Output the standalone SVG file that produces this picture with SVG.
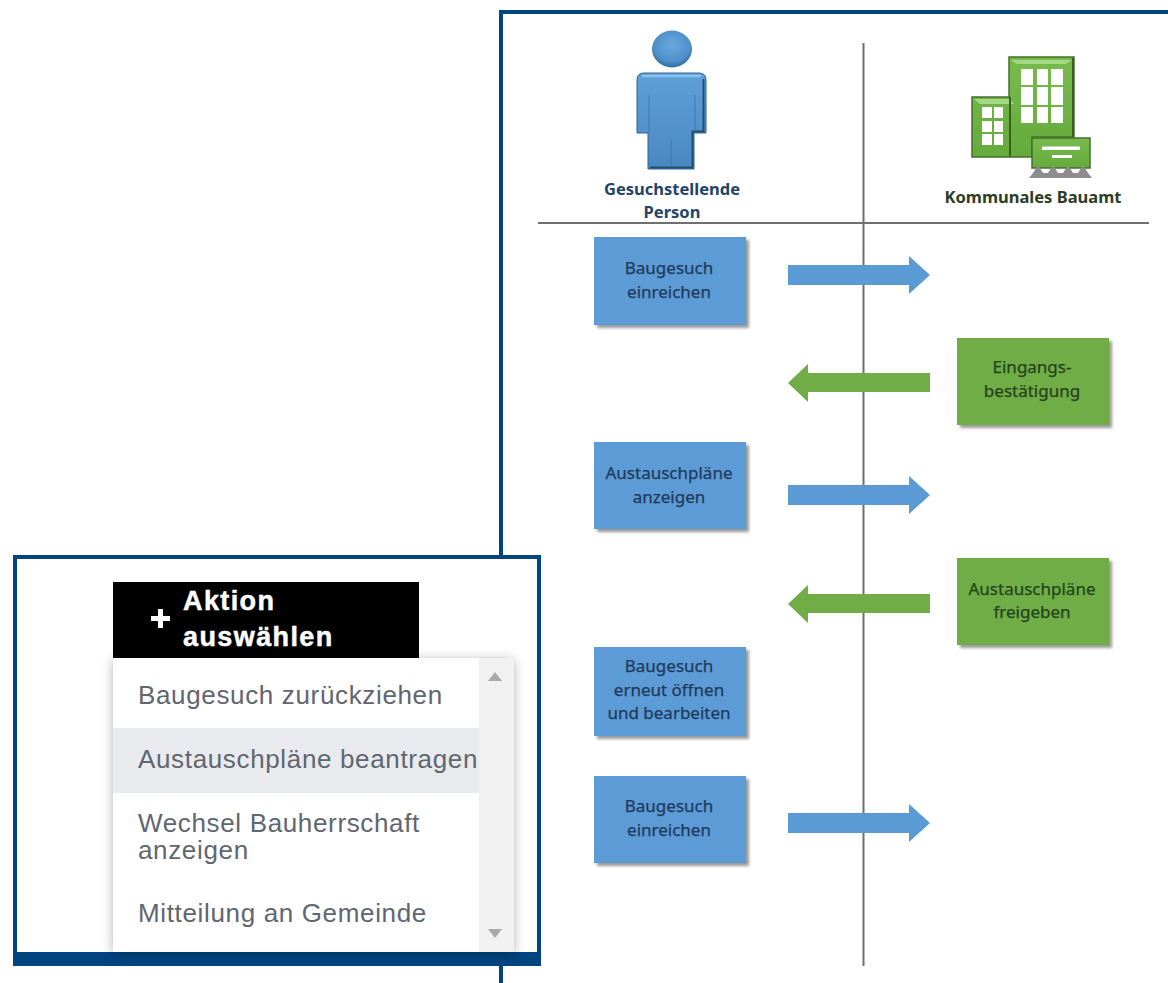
<svg xmlns="http://www.w3.org/2000/svg" width="1168" height="983" viewBox="0 0 1168 983">
<style>
.lb{font-family:"Noto Sans","Liberation Sans",sans-serif;font-size:17px;fill:#1f3a5c;stroke:#1f3a5c;stroke-width:.25;text-anchor:middle}
.lg{fill:#24431a;stroke:#24431a}
.hd{font-family:"Noto Sans","Liberation Sans",sans-serif;font-size:16.500px;font-weight:700;text-anchor:middle}
.m{font-family:"Liberation Sans",Arial,sans-serif;font-size:26px;fill:#5f6670;letter-spacing:.65px}
.act{font-family:"Liberation Sans",Arial,sans-serif;font-size:27px;font-weight:700;fill:#fff;letter-spacing:1.4px;stroke:#fff;stroke-width:.5}
.bb{fill:#5b9bd5;filter:url(#sh)}
.gb{fill:#70ad47;filter:url(#sh)}
.ln{stroke:#6f6f6f;stroke-width:2;fill:none}
.frame{fill:#fff;stroke:#004480;stroke-width:4}
.w{fill:#fff}
</style>
<defs>
<filter id="sh" x="-10%" y="-10%" width="125%" height="125%"><feDropShadow dx="3" dy="3" stdDeviation="1.5" flood-color="#777" flood-opacity=".75"/></filter>
<filter id="menu" x="-10%" y="-10%" width="120%" height="120%"><feDropShadow dx="0" dy="2" stdDeviation="6" flood-color="#000" flood-opacity=".3"/></filter>
<filter id="soft"><feGaussianBlur stdDeviation=".6"/></filter>
<linearGradient id="blue" x1="0" y1="0" x2="0" y2="1"><stop offset="0" stop-color="#5f9fd8"/><stop offset="1" stop-color="#4a88c4"/></linearGradient>
<radialGradient id="headg" cx=".5" cy=".4" r=".6"><stop offset="0" stop-color="#6aa8de"/><stop offset=".75" stop-color="#4f8fca"/><stop offset="1" stop-color="#2f6a9f"/></radialGradient>
<linearGradient id="green" x1="0" y1="0" x2="0" y2="1"><stop offset="0" stop-color="#78bb4c"/><stop offset="1" stop-color="#64ab3c"/></linearGradient>
</defs>

<g id="process-frame">
<path class="frame" d="M501 983V12H1170V983" />
</g>

<g id="connectors">
<path class="ln" d="M863.500 43V966"/>
<path class="ln" d="M538 223H1149"/>
<path id="arrow1" fill="#5b9bd5" d="M788 265H909V256L930 275 909 294V285H788Z"/>
<path id="arrow2" fill="#70ad47" d="M930 373H808V364L788 383 808 402V392H930Z"/>
<path id="arrow3" fill="#5b9bd5" d="M788 485H909V476L930 495 909 514V505H788Z"/>
<path id="arrow4" fill="#70ad47" d="M930 594H808V585L788 604 808 623V613H930Z"/>
<path id="arrow5" fill="#5b9bd5" d="M788 813H909V804L930 823 909 842V833H788Z"/>
</g>

<g id="person">
<g filter="url(#soft)">
<ellipse cx="672" cy="49" rx="20" ry="18.500" fill="url(#headg)"/>
<path d="M644 73H699Q706 73 706 80V133H694V169H648V133H637V80Q637 73 644 73Z" fill="url(#blue)" stroke="#2d6291" stroke-width="1"/>
<path d="M703.500 79V131.500H692.500V167.500H650" fill="none" stroke="#24506f" stroke-width="2"/>
<path d="M642 76H701" fill="none" stroke="#8cc2ec" stroke-width="2.500"/>
<path d="M649 95V133M695 95V131M671 140V167" fill="none" stroke="#3d79b0" stroke-width="1"/>
</g>
<text class="hd" x="672" y="195" fill="#1f4468">Gesuchstellende</text>
<text class="hd" x="672" y="218" fill="#1f4468">Person</text>
</g>

<g id="office">
<g filter="url(#soft)">
<path d="M1009 57H1074V137H1032V157H972V97H1009Z" fill="url(#green)" stroke="#44702b" stroke-width="1.500"/>
<path d="M1011 60H1072L1066 64H1017ZM974 99H1010L1014 104H980Z" fill="#a4d884"/>
<path d="M1010 97V156M1073 58V137" stroke="#3a5f24" stroke-width="2"/>
<path class="w" d="M1021 69h12v16h-12zM1037 69h11v16h-11zM1051 69h12v16h-12zM1021 87h12v18h-12zM1037 87h11v18h-11zM1051 87h12v18h-12zM1021 107h12v16h-12zM1037 107h11v16h-11zM1051 107h12v16h-12z"/>
<path class="w" d="M982 107h10v11h-10zM994 107h9v11h-9zM982 121h10v11h-10zM994 121h9v11h-9zM982 134h10v11h-10zM994 134h9v11h-9z"/>
<path d="M1032 138H1090V168H1032Z" fill="url(#green)" stroke="#44702b" stroke-width="1.500"/>
<path class="w" d="M1042 146.500h38v3.500h-38zM1052 155h20v3h-20z"/>
<path d="M1029 178l4-5 5-8 5 8 5 0 5-8 5 8 5 0 5-8 5 8 5 0 5-8 5 8 4 5Z" fill="#8d8d8d"/>
</g>
<text class="hd" x="1033" y="203" fill="#2c3d25">Kommunales Bauamt</text>
</g>

<g id="n1"><rect class="bb" x="594" y="237" width="152" height="88"/><text class="lb" x="669" y="274">Baugesuch</text><text class="lb" x="669" y="298">einreichen</text></g>
<g id="n2"><rect class="gb" x="957" y="338" width="152" height="87"/><text class="lb lg" x="1032" y="373">Eingangs-</text><text class="lb lg" x="1032" y="397">bestätigung</text></g>
<g id="n3"><rect class="bb" x="594" y="442" width="152" height="87"/><text class="lb" x="669" y="479">Austauschpläne</text><text class="lb" x="669" y="503">anzeigen</text></g>
<g id="n4"><rect class="gb" x="957" y="558" width="152" height="87"/><text class="lb lg" x="1032" y="595">Austauschpläne</text><text class="lb lg" x="1032" y="618">freigeben</text></g>
<g id="n5"><rect class="bb" x="594" y="647" width="152" height="89"/><text class="lb" x="669" y="672">Baugesuch</text><text class="lb" x="669" y="696">erneut öffnen</text><text class="lb" x="669" y="719">und bearbeiten</text></g>
<g id="n6"><rect class="bb" x="594" y="776" width="152" height="87"/><text class="lb" x="669" y="812">Baugesuch</text><text class="lb" x="669" y="836">einreichen</text></g>

<g id="action-frame">
<rect x="13" y="555" width="528" height="411" fill="#004480"/>
<rect x="17" y="559" width="520" height="393" fill="#fff"/>
</g>

<g id="action-button">
<rect x="113" y="582" width="306" height="76" fill="#000"/>
<path d="M158 609h5v7h7v5h-7v7h-5v-7h-7v-5h7z" fill="#fff"/>
<text class="act" x="183" y="610">Aktion</text>
<text class="act" x="183" y="646">auswählen</text>
</g>

<g id="action-menu">
<rect x="113" y="658" width="401" height="294" fill="#fff" filter="url(#menu)"/>
<rect x="479" y="658" width="35" height="294" fill="#f1f1f1"/>
<rect x="113" y="728" width="366" height="65" fill="#e8eaed"/>
<path d="M488 681l7-9 7 9Z" fill="#a8a8a8"/>
<path d="M488 929h14l-7 9Z" fill="#a8a8a8"/>
<text class="m" x="138" y="704">Baugesuch zurückziehen</text>
<text class="m" x="138" y="768">Austauschpläne beantragen</text>
<text class="m" x="138" y="832">Wechsel Bauherrschaft</text>
<text class="m" x="138" y="859">anzeigen</text>
<text class="m" x="138" y="922">Mitteilung an Gemeinde</text>
</g>
</svg>
